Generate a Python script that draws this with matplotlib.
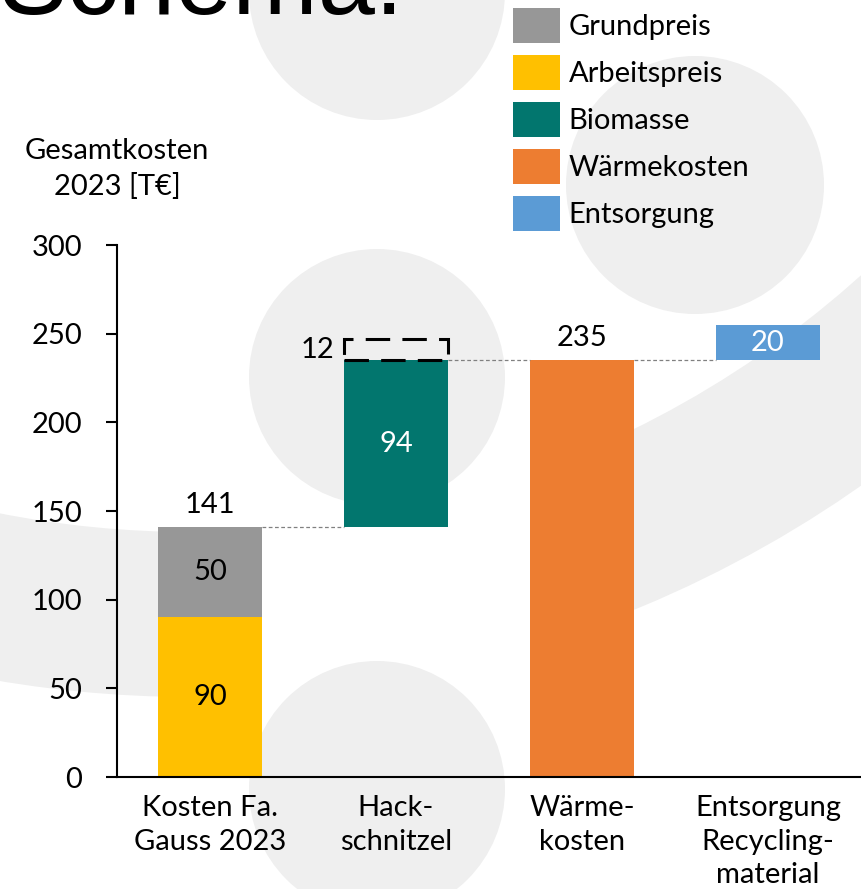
import numpy as np
import matplotlib
matplotlib.use("Agg")
import matplotlib.pyplot as plt
from matplotlib.patches import Circle, Wedge, Rectangle

# Daten
kategorien = ["Kosten Fa.\nGauss 2023", "Hack-\nschnitzel", "Wärme-\nkosten", "Entsorgung\nRecycling-\nmaterial"]
arbeitspreis = 90.4
grundpreis = 50.4
biomasse = 94.2
puffer = 12
waermekosten = 235
entsorgung = 20
legende = ["Grundpreis", "Arbeitspreis", "Biomasse", "Wärmekosten", "Entsorgung"]

c_grau = "#979797"
c_gelb = "#FFC000"
c_gruen = "#02766E"
c_orange = "#ED7D31"
c_blau = "#5B9BD5"
c_bg = "#EFEFEF"

plt.rcParams['font.family'] = ['Lato', 'DejaVu Sans']
fs = 21

W, H = 861, 889
fig = plt.figure(figsize=(W / 100, H / 100), dpi=100)

# Hintergrund (Logo-Kreise), Pixelkoordinaten mit y nach oben
bg = fig.add_axes([0, 0, 1, 1], zorder=0)
bg.set_xlim(0, W)
bg.set_ylim(0, H)
bg.axis('off')
for cx, cy, r in [(377, -8, 128), (377, 377, 128), (377, 789, 128), (695, 185, 129)]:
    bg.add_patch(Circle((cx, H - cy), r, color=c_bg, lw=0))
for t1, t2 in [(225, 270), (291, 345)]:
    bg.add_patch(Wedge((192, H + 468), 1165, t1, t2, width=165, color=c_bg, lw=0))
bg.text(-2, H - 14, "Schema:", fontsize=74, family=['Liberation Sans'], ha='left', va='baseline')

# Diagramm
ax = fig.add_axes([117 / W, 1 - 777 / H, 1 - 117 / W, (777 - 245) / H], zorder=1)
ax.patch.set_alpha(0)
x = np.arange(len(kategorien))
w = 0.56

summe1 = arbeitspreis + grundpreis
b_arb = ax.bar(x[0], arbeitspreis, w, color=c_gelb)
b_gru = ax.bar(x[0], grundpreis, w, bottom=arbeitspreis, color=c_grau)
b_bio = ax.bar(x[1], biomasse, w, bottom=summe1, color=c_gruen)
b_wae = ax.bar(x[2], waermekosten, w, color=c_orange)
b_ent = ax.bar(x[3], entsorgung, w, bottom=waermekosten, color=c_blau)

# Puffer (gestrichelter Rahmen)
top2 = summe1 + biomasse
ax.add_patch(Rectangle((x[1] - w / 2, top2), w, puffer, fill=False, ec='black',
                       lw=2.2, ls=(0, (8, 4))))

# Verbindungslinien
for xa, ya in [(x[0], summe1), (x[1], top2), (x[2], waermekosten)]:
    ax.plot([xa + w / 2, xa + 1 - w / 2], [ya, ya], color='#808080', lw=0.9, ls=(0, (3, 2)))

# Beschriftungen
ax.text(x[0], arbeitspreis / 2, f"{arbeitspreis:.0f}", ha='center', va='center', fontsize=fs)
ax.text(x[0], arbeitspreis + grundpreis / 2, f"{grundpreis:.0f}", ha='center', va='center', fontsize=fs)
ax.text(x[0], summe1 + 12.5, f"{summe1:.0f}", ha='center', va='center', fontsize=fs)
ax.text(x[1], summe1 + biomasse / 2, f"{biomasse:.0f}", ha='center', va='center', fontsize=fs, color='white')
ax.text(x[1] - w / 2 - 0.05, top2 + puffer / 2, f"{puffer}", ha='right', va='center', fontsize=fs)
ax.text(x[2], waermekosten + 12.5, f"{waermekosten}", ha='center', va='center', fontsize=fs)
ax.text(x[3], waermekosten + entsorgung / 2, f"{entsorgung}", ha='center', va='center', fontsize=fs, color='white')

ax.set_xlim(-0.5, 3.5)
ax.set_ylim(0, 300)
ax.set_yticks(np.arange(0, 301, 50))
ax.set_xticks(x)
ax.set_xticklabels(kategorien, fontsize=fs, linespacing=1.36)
ax.tick_params(axis='x', length=0, pad=13)
ax.tick_params(axis='y', length=8, width=1.5, pad=17, labelsize=fs)
for s in ['top', 'right']:
    ax.spines[s].set_visible(False)
for s in ['left', 'bottom']:
    ax.spines[s].set_linewidth(1.5)

fig.text(117 / W, 1 - 169 / H, "Gesamtkosten\n2023 [T€]", ha='center', va='center',
         fontsize=fs, linespacing=1.4)

fig.legend([b_gru, b_arb, b_bio, b_wae, b_ent], legende, loc='upper left',
           bbox_to_anchor=(513 / W, 1 - 8 / H), frameon=False, fontsize=fs,
           borderpad=0, borderaxespad=0, handlelength=1.62, handleheight=1.47,
           handletextpad=0.28, labelspacing=0.41)

fig.savefig("out.png", dpi=100)
